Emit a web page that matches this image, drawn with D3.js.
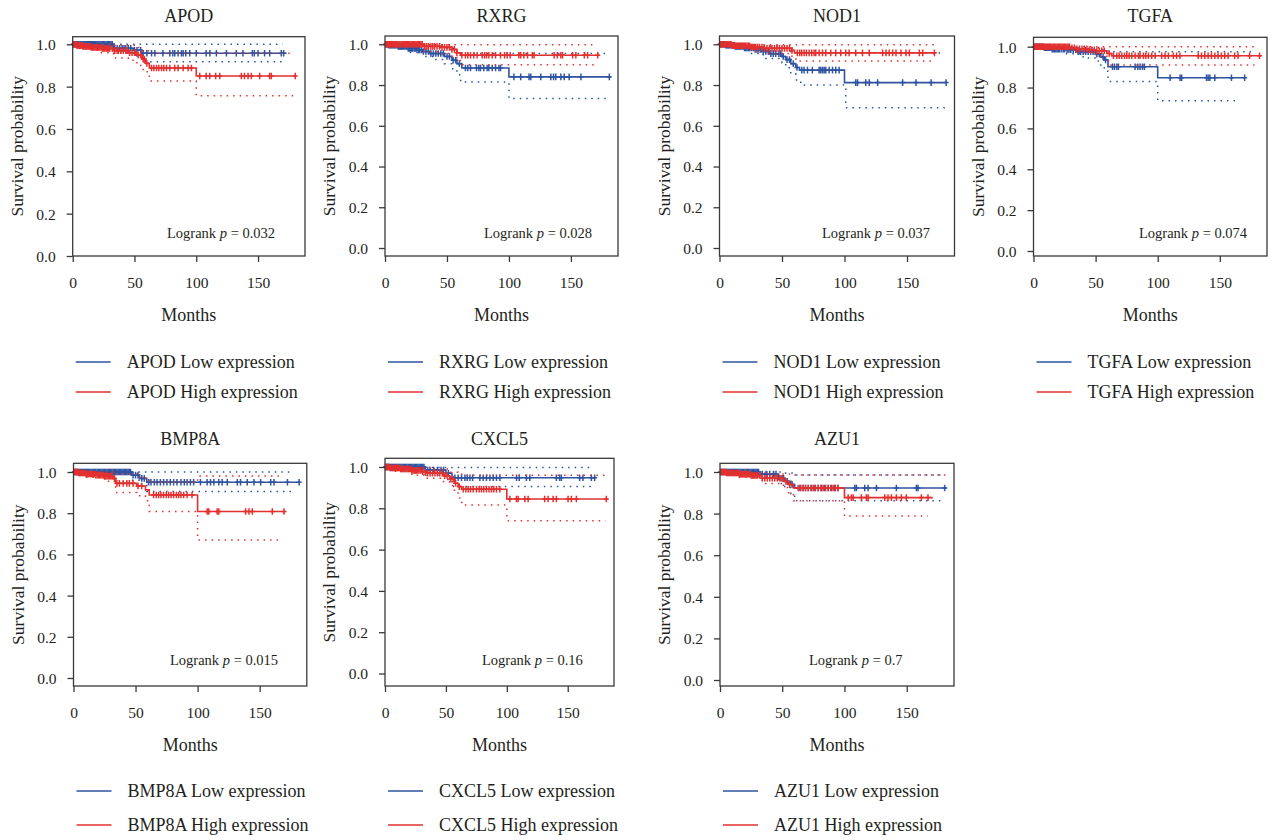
<!DOCTYPE html>
<html>
<head>
<meta charset="utf-8">
<script src="https://cdn.jsdelivr.net/npm/d3@7"></script>
<style>
  body { margin: 0; background: #fff; }
  text { font-family: "Liberation Serif", "Times New Roman", serif; fill: #231f20; }
</style>
</head>
<body>
<svg id="chart" width="1273" height="840"></svg>
<script>
// Kaplan-Meier panels, one per gene: low (blue) vs high (red) expression
const genes = ['APOD', 'RXRG', 'NOD1', 'TGFA', 'BMP8A', 'CXCL5', 'AZU1'];
const pValues = ['0.032', '0.028', '0.037', '0.074', '0.015', '0.16', '0.7'];
const xTicks = [0, 50, 100, 150];
const yTicks = [0, 0.2, 0.4, 0.6, 0.8, 1.0];

// step curves: [months, survival from that time on]; CI bounds same form
const apodLow = [[0, 1], [33, 0.981], [49, 0.972], [56, 0.958], [173, 0.958]];
const apodLowCens = [0.5, 1.2, 2, 2.8, 3.5, 4.3, 5, 6, 6.8, 7.5, 8.4, 9.2, 10, 11, 11.8, 12.6, 13.5, 14.3, 15.2, 16, 17, 17.8, 18.6, 19.5, 20.4, 21.3, 22, 23, 24, 25, 26, 27, 28, 29, 30, 31, 32, 34, 36, 38, 40, 41.5, 43, 45, 47, 50, 52, 55, 57, 60, 63.8, 66.5, 73, 78.6, 81, 82.6, 85.3, 88, 89.4, 91.5, 94.7, 100, 108, 111, 116.3, 124.4, 132.4, 137.8, 145.4, 147, 150, 155.3, 159.4, 168.8, 170.7];
const apodLowUp = [[33, 1], [170, 1]];
const apodLowLo = [[33, 0.96], [49, 0.945], [56, 0.918], [170, 0.918]];
const apodHigh = [[0, 1], [3, 0.995], [8, 0.99], [15, 0.985], [24, 0.98], [33, 0.97], [45, 0.96], [52, 0.95], [56, 0.93], [59, 0.91], [62, 0.888], [100, 0.85], [181, 0.85]];
const apodHighCens = [1, 1.8, 2.5, 3.3, 4, 5, 5.8, 6.5, 7.3, 8.2, 9, 10, 10.8, 11.6, 12.5, 13.4, 14.2, 15, 16, 17, 18, 19, 20, 21, 22, 23, 24, 25, 26, 27, 28, 29, 30, 32, 34, 36, 37, 39, 41, 43, 44, 46, 48, 50, 51, 53, 55, 57, 58, 60, 63.8, 65.7, 67.8, 69.7, 71.9, 73.7, 75.9, 78.6, 82.6, 85.3, 89.4, 93.4, 96.1, 102.8, 108, 110.9, 115.7, 119, 136.5, 139, 141.9, 144.6, 151.3, 159.4, 160.7, 180.1];
const apodHighUp = [[8, 1], [33, 0.995], [52, 0.985], [56, 0.97], [62, 0.958], [177, 0.958]];
const apodHighLo = [[5, 0.98], [20, 0.96], [33, 0.935], [45, 0.925], [52, 0.9], [57, 0.87], [62, 0.827], [100, 0.757], [180, 0.757]];

const rxrgLow = [[0, 1], [3, 0.995], [10, 0.99], [18, 0.98], [26, 0.972], [31, 0.965], [36, 0.955], [48, 0.94], [54, 0.922], [58, 0.905], [62, 0.884], [100, 0.84], [182, 0.84]];
const rxrgLowCens = [0.8, 1.5, 2.3, 3, 4, 4.8, 5.6, 6.5, 7.2, 8, 9, 9.8, 10.7, 11.5, 12.4, 13.2, 14, 15, 16, 17, 17.8, 18.7, 19.6, 20.5, 21.4, 22.3, 23.5, 24.5, 25.5, 27, 28, 29.5, 31, 33, 35, 37, 39, 41, 43, 45, 47, 50, 52, 55, 57, 60, 64.9, 66.8, 69, 73.8, 75.7, 77, 79.7, 82.4, 83.8, 86.5, 89.2, 91.9, 93.2, 104, 109.5, 116.2, 117.6, 125.7, 133.8, 136, 137.8, 141.9, 144.6, 148.6, 158.1, 181];
const rxrgLowUp = [[30, 0.99], [48, 0.98], [58, 0.965], [62, 0.955], [178, 0.955]];
const rxrgLowLo = [[20, 0.96], [31, 0.94], [40, 0.925], [48, 0.905], [54, 0.88], [58, 0.85], [61, 0.815], [100, 0.734], [180, 0.734]];
const rxrgHigh = [[0, 1], [31, 0.99], [45, 0.985], [54, 0.975], [58, 0.958], [61, 0.946], [173, 0.946]];
const rxrgHighCens = [0.5, 1.3, 2, 2.9, 3.7, 4.5, 5.3, 6.2, 7, 7.9, 8.7, 9.5, 10.4, 11.3, 12, 13, 13.8, 14.7, 15.5, 16.4, 17.3, 18.2, 19, 20, 21, 22, 23, 24, 25, 26, 27, 28, 29, 30, 32, 33.5, 35, 37, 38.5, 40, 42, 44, 46, 48, 50, 52, 54, 56, 58, 62, 64.9, 66.8, 69, 71.6, 74.3, 78.4, 80.3, 81.9, 83.8, 86.5, 89.2, 93.2, 96.5, 98.6, 101, 108, 109.5, 112, 115, 118.9, 120.3, 136.5, 139, 141.9, 143.2, 151.4, 154, 160.8, 163.5, 171.6];
const rxrgHighUp = [[35, 0.998], [169, 0.998]];
const rxrgHighLo = [[31, 0.965], [45, 0.955], [54, 0.94], [58, 0.92], [62, 0.9], [169, 0.9]];

const nod1Low = [[0, 1], [5, 0.995], [12, 0.99], [20, 0.982], [28, 0.975], [35, 0.965], [40, 0.954], [50, 0.94], [53, 0.925], [57, 0.905], [61, 0.886], [64, 0.873], [100, 0.812], [181, 0.812]];
const nod1LowCens = [0.7, 1.5, 2.4, 3.2, 4, 5, 5.8, 6.6, 7.5, 8.3, 9.2, 10, 11, 11.8, 12.7, 13.5, 14.4, 15.3, 16.2, 17, 18, 19, 20, 21, 22, 23, 24, 25.5, 27, 28.5, 30, 31.5, 33, 35, 37, 39, 41, 43, 45, 47.5, 49, 51, 54, 56, 59, 62, 65.8, 67.7, 70.4, 74.3, 79.7, 81, 82.4, 83.7, 85, 87.7, 90.4, 93, 95.7, 109, 110.4, 117, 119.8, 126.5, 146.5, 157.2, 169.3, 181.3];
const nod1LowUp = [[35, 0.99], [50, 0.98], [57, 0.965], [62, 0.957], [180, 0.957]];
const nod1LowLo = [[25, 0.955], [35, 0.93], [50, 0.91], [53, 0.885], [57, 0.855], [61, 0.825], [65, 0.8], [101, 0.688], [181, 0.688]];
const nod1High = [[0, 1], [10, 0.993], [25, 0.987], [35, 0.98], [58, 0.97], [60, 0.958], [173, 0.958]];
const nod1HighCens = [0.5, 1.2, 2, 2.7, 3.5, 4.3, 5, 6, 6.8, 7.6, 8.5, 9.3, 10.2, 11, 12, 12.8, 13.6, 14.5, 15.4, 16.3, 17.2, 18, 19, 20, 21, 22, 23, 24, 25, 26, 27, 28, 29, 30.5, 32, 34, 36, 38, 40, 42, 44, 46, 48, 50, 52, 54, 56, 58, 62.3, 64.2, 65.8, 67.7, 69.5, 71.7, 73.8, 75.7, 77, 79.7, 82.4, 85, 89, 93, 97, 101, 103.7, 109, 114.4, 119.8, 130.5, 133.2, 135.8, 138.5, 141.2, 145.2, 149.2, 151.9, 159.9, 162.6, 171.9];
const nod1HighUp = [[35, 0.998], [172, 0.998]];
const nod1HighLo = [[30, 0.965], [40, 0.955], [58, 0.94], [61, 0.918], [172, 0.918]];

const tgfaLow = [[0, 1], [8, 0.995], [15, 0.988], [26, 0.985], [36, 0.975], [50, 0.964], [54, 0.95], [57, 0.935], [60, 0.902], [100, 0.848], [170, 0.848]];
const tgfaLowCens = [1, 1.8, 2.6, 3.4, 4.3, 5.1, 6, 6.9, 7.7, 8.6, 9.5, 10.3, 11.2, 12, 13, 14, 15, 16, 17, 18, 19, 20, 21, 22.5, 24, 25, 27, 28.5, 30, 32, 34, 36, 38, 40, 42, 44, 46, 48, 51, 53, 56, 58, 63.6, 65.2, 67.1, 68.4, 81.8, 84, 85.8, 87.7, 89.3, 110, 118, 119.3, 139.3, 140.6, 142, 146, 159.4, 170];
const tgfaLowUp = [[36, 0.995], [54, 0.985], [60, 0.975], [178, 0.975]];
const tgfaLowLo = [[26, 0.965], [40, 0.945], [50, 0.93], [54, 0.91], [57, 0.88], [60, 0.83], [100, 0.736], [166, 0.736]];
const tgfaHigh = [[0, 1], [30, 0.995], [35, 0.99], [45, 0.985], [50, 0.98], [59, 0.967], [63, 0.956], [183, 0.956]];
const tgfaHighCens = [0.5, 1.3, 2.1, 2.9, 3.8, 4.6, 5.4, 6.3, 7.1, 8, 8.8, 9.7, 10.5, 11.4, 12.3, 13.1, 14, 15, 16, 17, 18, 19, 20, 21, 22, 23, 24, 25, 26, 27, 28, 29, 31, 33, 35, 37, 39, 41, 43, 45, 47, 49, 51, 53, 55, 57, 61, 64.4, 67.1, 69, 71.1, 73.3, 75.1, 77, 79.1, 81.8, 84.5, 85.8, 88.5, 90.4, 92.5, 95.2, 97.9, 103.2, 105.9, 108.6, 112.6, 115.2, 117.9, 132.6, 135.3, 137.9, 140.6, 143.3, 146, 148.6, 151.3, 154, 156.7, 162, 164.7, 174, 182];
const tgfaHighUp = [[40, 1], [178, 1]];
const tgfaHighLo = [[35, 0.97], [50, 0.955], [59, 0.93], [62, 0.91], [178, 0.91]];

const bmp8aLow = [[0, 1], [47, 0.985], [53, 0.969], [59, 0.95], [183, 0.95]];
const bmp8aLowCens = [0.6, 1.4, 2.2, 3, 3.8, 4.7, 5.5, 6.4, 7.2, 8, 9, 9.8, 10.6, 11.5, 12.3, 13.2, 14, 15, 16, 17, 18, 19, 20, 21, 22, 23, 24, 25, 26, 27, 28, 29, 30, 31, 32, 33, 34, 35, 36, 37, 38, 39, 40, 41, 42, 43, 44, 45, 46, 48, 50, 52, 55, 57, 60.5, 62.4, 65.1, 67.3, 70, 72.6, 75.3, 78, 80.7, 83.4, 86.6, 89.3, 91.5, 94.2, 96.8, 102.3, 107.7, 110.4, 113.1, 117.1, 119.8, 123.9, 132, 134.6, 140, 145.4, 150.8, 158.9, 161.6, 172.4, 181.8];
const bmp8aLowUp = [[47, 1], [178, 1]];
const bmp8aLowLo = [[47, 0.96], [53, 0.94], [59, 0.905], [179, 0.905]];
const bmp8aHigh = [[0, 1], [4, 0.995], [10, 0.99], [18, 0.985], [25, 0.98], [32, 0.968], [34, 0.945], [51, 0.932], [58, 0.913], [61, 0.888], [100, 0.808], [171, 0.808]];
const bmp8aHighCens = [0.8, 1.6, 2.4, 3.2, 4.1, 5, 5.8, 6.7, 7.5, 8.4, 9.2, 10.1, 11, 11.8, 12.7, 13.5, 14.4, 15.3, 16.2, 17, 18, 19, 20, 21, 22, 23, 24, 25, 26, 27, 28, 29, 30, 31, 33, 35, 37, 40, 43, 45, 48, 52, 55, 64.5, 66.7, 68.6, 70.5, 72.6, 74.8, 76.7, 78.6, 80.7, 82.9, 84.8, 86.6, 88.8, 91.5, 95.5, 107.7, 109, 115.8, 117.1, 138.7, 141.4, 144.1, 160.2, 169.6];
const bmp8aHighUp = [[10, 1], [34, 0.99], [51, 0.975], [58, 0.96], [61, 0.95], [100, 0.98], [168, 0.98]];
const bmp8aHighLo = [[10, 0.975], [25, 0.955], [34, 0.9], [51, 0.885], [58, 0.86], [61, 0.808], [100, 0.67], [167, 0.67]];

const cxcl5Low = [[0, 1], [33, 0.985], [50, 0.97], [55, 0.948], [173, 0.948]];
const cxcl5LowCens = [0.5, 1.3, 2.1, 2.9, 3.7, 4.6, 5.4, 6.3, 7.1, 8, 8.8, 9.7, 10.5, 11.4, 12.2, 13.1, 14, 15, 16, 17, 18, 19, 20, 21, 22, 23, 24, 25, 26, 27, 28, 29, 30, 31, 32, 35, 37, 40, 43, 46, 48, 52, 57.4, 60.1, 62.8, 65.6, 67.5, 69.7, 71.9, 77.9, 80.6, 83.3, 86.1, 88.8, 91.5, 94.3, 108, 110.2, 116.1, 118.9, 140.7, 143.4, 144.8, 159.8, 162.5, 169.4, 172.1];
const cxcl5LowUp = [[33, 0.997], [171, 0.997]];
const cxcl5LowLo = [[33, 0.96], [50, 0.94], [55, 0.905], [171, 0.905]];
const cxcl5High = [[0, 1], [4, 0.995], [12, 0.99], [22, 0.983], [30, 0.977], [34, 0.97], [48, 0.958], [53, 0.942], [57, 0.921], [60, 0.905], [63, 0.892], [100, 0.845], [183, 0.845]];
const cxcl5HighCens = [0.8, 1.6, 2.5, 3.3, 4.2, 5, 5.9, 6.7, 7.6, 8.4, 9.3, 10.1, 11, 11.9, 12.8, 13.6, 14.5, 15.4, 16.3, 17.2, 18, 19, 20, 21, 22, 23, 24, 25, 26, 27, 28, 29.5, 31, 33, 35, 37, 39, 41, 43, 45, 47, 49, 51, 54, 56, 58, 61, 64.2, 66.4, 68.3, 70.2, 72.4, 75.1, 77.3, 79.2, 81.1, 83.3, 85.4, 87.4, 89.3, 91.5, 94.3, 102.5, 107.9, 109.3, 114.8, 117.5, 131.1, 133.9, 138, 140.7, 150.3, 153, 157.1, 181.7];
const cxcl5HighUp = [[20, 0.998], [40, 0.99], [53, 0.975], [60, 0.965], [63, 0.96], [183, 0.96]];
const cxcl5HighLo = [[8, 0.98], [22, 0.96], [34, 0.945], [48, 0.93], [53, 0.91], [57, 0.88], [60, 0.85], [63, 0.816], [100, 0.74], [181, 0.74]];

const azu1Low = [[0, 1], [32, 0.99], [47, 0.97], [52, 0.955], [57, 0.94], [60, 0.923], [182, 0.923]];
const azu1LowCens = [0.6, 1.4, 2.3, 3.1, 4, 4.8, 5.7, 6.5, 7.4, 8.2, 9.1, 10, 10.8, 11.7, 12.5, 13.4, 14.3, 15.2, 16, 17, 18, 19, 20, 21, 22, 23, 24, 25, 26, 27, 28, 29, 30, 31, 34, 37, 40, 43, 45, 49, 51, 54, 58, 64.2, 66.8, 68.7, 70.9, 73.5, 76.2, 78.9, 81.6, 84.2, 86.9, 89.6, 92.2, 94.9, 108.3, 109.6, 116.3, 119, 125.7, 141.7, 157.8, 159.1, 180.5];
const azu1LowUp = [[32, 1], [52, 0.995], [60, 0.986], [181, 0.986]];
const azu1LowLo = [[32, 0.97], [47, 0.945], [52, 0.925], [57, 0.895], [60, 0.862], [181, 0.862]];
const azu1High = [[0, 1], [5, 0.995], [15, 0.99], [25, 0.983], [34, 0.97], [51, 0.955], [55, 0.94], [59, 0.923], [100, 0.877], [171, 0.877]];
const azu1HighCens = [1, 1.8, 2.7, 3.5, 4.4, 5.2, 6.1, 7, 7.8, 8.7, 9.5, 10.4, 11.3, 12.1, 13, 13.9, 14.8, 15.7, 16.5, 17.4, 18.3, 19.2, 20, 21, 22, 23, 24, 25, 26, 27, 28, 29, 30, 32, 34, 36, 38, 40, 42, 44, 46, 48, 50, 53, 56, 62.8, 65, 66.8, 68.7, 70.9, 73, 74.9, 76.7, 78.9, 81, 82.9, 84.8, 86.9, 89, 90.9, 92.8, 94.9, 103, 105.6, 107, 113.6, 117.6, 119, 132.4, 135, 137.7, 141.7, 145.7, 149.7, 161.8, 167.1];
const azu1HighUp = [[20, 0.998], [40, 0.99], [59, 0.986], [181, 0.986]];
const azu1HighLo = [[15, 0.975], [34, 0.945], [51, 0.925], [55, 0.9], [59, 0.862], [100, 0.788], [167, 0.788]];

const curveSets = [
  [[apodLow, apodLowCens, apodLowUp, apodLowLo], [apodHigh, apodHighCens, apodHighUp, apodHighLo]],
  [[rxrgLow, rxrgLowCens, rxrgLowUp, rxrgLowLo], [rxrgHigh, rxrgHighCens, rxrgHighUp, rxrgHighLo]],
  [[nod1Low, nod1LowCens, nod1LowUp, nod1LowLo], [nod1High, nod1HighCens, nod1HighUp, nod1HighLo]],
  [[tgfaLow, tgfaLowCens, tgfaLowUp, tgfaLowLo], [tgfaHigh, tgfaHighCens, tgfaHighUp, tgfaHighLo]],
  [[bmp8aLow, bmp8aLowCens, bmp8aLowUp, bmp8aLowLo], [bmp8aHigh, bmp8aHighCens, bmp8aHighUp, bmp8aHighLo]],
  [[cxcl5Low, cxcl5LowCens, cxcl5LowUp, cxcl5LowLo], [cxcl5High, cxcl5HighCens, cxcl5HighUp, cxcl5HighLo]],
  [[azu1Low, azu1LowCens, azu1LowUp, azu1LowLo], [azu1High, azu1HighCens, azu1HighUp, azu1HighLo]],
];

// panel frames (pixels) - the sub-plots are slightly misaligned in the source
const panels = [
  { l: 72.7, t: 36.7, r: 305, b: 256, y1: 44.3, y0: 256, px: 167, row: 0 },
  { l: 385, t: 36, r: 618, b: 256, y1: 44.3, y0: 248, px: 484, row: 0 },
  { l: 719.5, t: 36, r: 954.5, b: 256, y1: 44.3, y0: 248, px: 822, row: 0 },
  { l: 1033.5, t: 37.3, r: 1267, b: 256, y1: 46.7, y0: 251, px: 1139, row: 0 },
  { l: 73.5, t: 463.3, r: 306.8, b: 686, y1: 472, y0: 678, px: 170, row: 1 },
  { l: 385, t: 458.3, r: 614, b: 686, y1: 467, y0: 673.5, px: 482, row: 1 },
  { l: 720, t: 463.3, r: 954, b: 686, y1: 472, y0: 680, px: 809, row: 1 },
];
const rows = [
  { title: 21.7, plab: 238, leg1: 362, leg2: 392 },
  { title: 444.5, plab: 665, leg1: 791, leg2: 825 },
];
const colors = ['#2e54a1', '#e3302f'];
const groupNames = ['Low expression', 'High expression'];
const serif = '"Liberation Serif", "Times New Roman", serif';

const svg = d3.select('#chart');

function survAt(steps, t) {
  let s = steps[0][1];
  for (const [tt, v] of steps) { if (tt <= t) s = v; else break; }
  return s;
}

panels.forEach((p, i) => {
  const row = rows[p.row];
  const x = d3.scaleLinear().domain([0, 188]).range([p.l, p.r]);
  const y = d3.scaleLinear().domain([0, 1]).range([p.y0, p.y1]);
  const step = d3.line().x(d => x(d[0])).y(d => y(d[1])).curve(d3.curveStepAfter);
  const g = svg.append('g');

  curveSets[i].forEach(([steps, cens, up, lo], k) => {
    const c = colors[k];
    [up, lo].forEach(ci => {
      g.append('path').attr('d', step(ci)).attr('fill', 'none').attr('stroke', c)
        .attr('stroke-width', 1.5).attr('stroke-dasharray', '1.5,5');
    });
    g.append('path').attr('d', step(steps)).attr('fill', 'none').attr('stroke', c)
      .attr('stroke-width', 1.6);
    g.append('g').selectAll('path').data(cens).join('path')
      .attr('transform', t => `translate(${x(t)},${y(survAt(steps, t))})`)
      .attr('d', 'M-2.5,0H2.5M0,-3.3V3.3')
      .attr('stroke', c).attr('stroke-width', 1.5).attr('fill', 'none');
  });

  // frame
  g.append('rect').attr('x', p.l).attr('y', p.t).attr('width', p.r - p.l).attr('height', p.b - p.t)
    .attr('fill', 'none').attr('stroke', '#3a3a3a').attr('stroke-width', 1.3);

  const xa = g.append('g').attr('transform', `translate(0,${p.b})`)
    .call(d3.axisBottom(x).tickValues(xTicks).tickSize(6).tickFormat(d3.format('d')));
  const ya = g.append('g').attr('transform', `translate(${p.l},0)`)
    .call(d3.axisLeft(y).tickValues(yTicks).tickSize(6).tickFormat(d3.format('.1f')));
  [xa, ya].forEach(a => {
    a.attr('font-family', null).attr('font-size', null);
    a.select('.domain').remove();
    a.selectAll('line').attr('stroke', '#3a3a3a').attr('stroke-width', 1.3);
    a.selectAll('text').style('font-family', serif).style('font-size', '15.5px').attr('fill', '#231f20');
  });
  xa.selectAll('text').attr('y', 32).attr('dy', null);
  ya.selectAll('text').attr('x', -17).attr('dy', '0.35em');

  // titles
  g.append('text').attr('x', (p.l + p.r) / 2).attr('y', row.title).attr('text-anchor', 'middle')
    .style('font-size', '18px').text(genes[i]);
  g.append('text').attr('x', (p.l + p.r) / 2).attr('y', p.b + 65).attr('text-anchor', 'middle')
    .style('font-size', '18px').text('Months');
  g.append('text').attr('transform', `translate(${p.l - 56},${(p.t + p.b) / 2}) rotate(-90)`)
    .attr('text-anchor', 'middle').attr('dy', '0.35em').style('font-size', '17.5px')
    .text('Survival probability');

  const pl = g.append('text').attr('x', p.px).attr('y', row.plab).style('font-size', '14.5px');
  pl.append('tspan').text('Logrank ');
  pl.append('tspan').style('font-style', 'italic').text('p');
  pl.append('tspan').text(' = ' + pValues[i]);

  // legend
  [row.leg1, row.leg2].forEach((ly, k) => {
    g.append('line').attr('x1', p.l + 3).attr('x2', p.l + 38).attr('y1', ly).attr('y2', ly)
      .attr('stroke', colors[k]).attr('stroke-width', 1.3);
    g.append('text').attr('x', p.l + 54).attr('y', ly).attr('dy', '0.35em')
      .style('font-size', '18px').text(genes[i] + ' ' + groupNames[k]);
  });
});
</script>
</body>
</html>
